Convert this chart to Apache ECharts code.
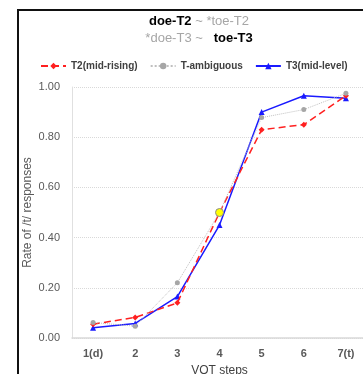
<!DOCTYPE html>
<html><head><meta charset="utf-8">
<script src="https://cdn.jsdelivr.net/npm/echarts@6/dist/echarts.min.js"></script>
<style>html,body{margin:0;padding:0;background:#fff}#c{width:363px;height:374px}</style>
</head><body><div id="c"></div>
<script>
var categories = ['1(d)', '2', '3', '4', '5', '6', '7(t)'];
var t2MidRising = [0.055, 0.082, 0.14, 0.50, 0.83, 0.85, 0.965];
var tAmbiguous = [0.062, 0.047, 0.22, 0.50, 0.878, 0.91, 0.975];
var t3MidLevel = [0.041, 0.058, 0.165, 0.45, 0.90, 0.965, 0.955];
var yTicks = [0, 0.2, 0.4, 0.6, 0.8, 1.0];

var chart = echarts.init(document.getElementById('c'), null, {renderer: 'canvas'});
var ambData = tAmbiguous.map(function (v, i) {
  if (i === 3) return {value: v, symbolSize: 8, itemStyle: {color: '#ffff00', borderColor: '#8c8c8c', borderWidth: 1}, z: 10};
  return v;
});
chart.setOption({
  animation: false,
  graphic: [{
    type: 'rect', shape: {x: 18, y: 10, width: 420, height: 420},
    style: {fill: 'none', stroke: '#111', lineWidth: 2}, z: 100
  }],
  title: {
    left: 194, top: 8, textAlign: 'center',
    text: '{b|doe-T2}{g| ~ *toe-T2}\n{g|*doe-T3 ~   }{b|toe-T3}',
    textStyle: {
      fontWeight: 'normal',
      rich: {
        b: {fontFamily: 'Liberation Sans, Arial', fontWeight: 'bold', fontSize: 13, color: '#000', lineHeight: 17},
        g: {fontFamily: 'Liberation Sans, Arial', fontWeight: 'normal', fontSize: 13, color: '#a6a6a6', lineHeight: 17}
      }
    }
  },
  legend: {
    top: 56, left: 35, width: 340, itemGap: 12, itemWidth: 25, itemHeight: 8,
    textStyle: {fontFamily: 'Liberation Sans, Arial', fontWeight: 'bold', fontSize: 10, color: '#404040'},
    data: ['T2(mid-rising)', 'T-ambiguous', 'T3(mid-level)']
  },
  grid: {left: 72, top: 87, width: 295, height: 251, containLabel: false, outerBoundsMode: 'none'},
  xAxis: {
    type: 'category', data: categories, boundaryGap: true,
    name: 'VOT steps', nameLocation: 'middle', nameGap: 27, nameMoveOverlap: false,
    nameTextStyle: {fontFamily: 'Liberation Sans, Arial', fontSize: 12, color: '#404040'},
    axisLine: {lineStyle: {color: '#d9d9d9', width: 1.5}},
    axisTick: {show: false},
    axisLabel: {fontFamily: 'Liberation Sans, Arial', fontWeight: 'bold', fontSize: 11, color: '#595959', margin: 10}
  },
  yAxis: {
    type: 'value', min: 0, max: 1, interval: 0.2,
    name: 'Rate of /t/ responses', nameLocation: 'middle', nameGap: 38, nameMoveOverlap: false,
    nameTextStyle: {fontFamily: 'Liberation Sans, Arial', fontSize: 12, color: '#595959'},
    axisLine: {show: true, lineStyle: {color: '#e0e0e0', width: 1}},
    axisTick: {show: false},
    axisLabel: {fontFamily: 'Liberation Sans, Arial', fontSize: 11, color: '#595959', margin: 12,
      formatter: function (v) { return v.toFixed(2); }},
    splitLine: {lineStyle: {color: '#d9d9d9', type: 'dotted', width: 1}}
  },
  series: [
    {name: 'T2(mid-rising)', type: 'line', data: t2MidRising, symbol: 'diamond', symbolSize: 6,
      lineStyle: {color: '#ff2020', type: [7, 4], width: 1.5}, itemStyle: {color: '#ff2020'}, z: 3},
    {name: 'T-ambiguous', type: 'line', data: ambData, symbol: 'circle', symbolSize: 5,
      lineStyle: {color: '#bfbfbf', type: 'dotted', width: 1}, itemStyle: {color: '#a6a6a6'}, z: 4},
    {name: 'T3(mid-level)', type: 'line', data: t3MidLevel, symbol: 'triangle', symbolSize: 6,
      lineStyle: {color: '#1a1aff', width: 1.5}, itemStyle: {color: '#1a1aff'}, z: 2}
  ]
});
</script></body></html>
